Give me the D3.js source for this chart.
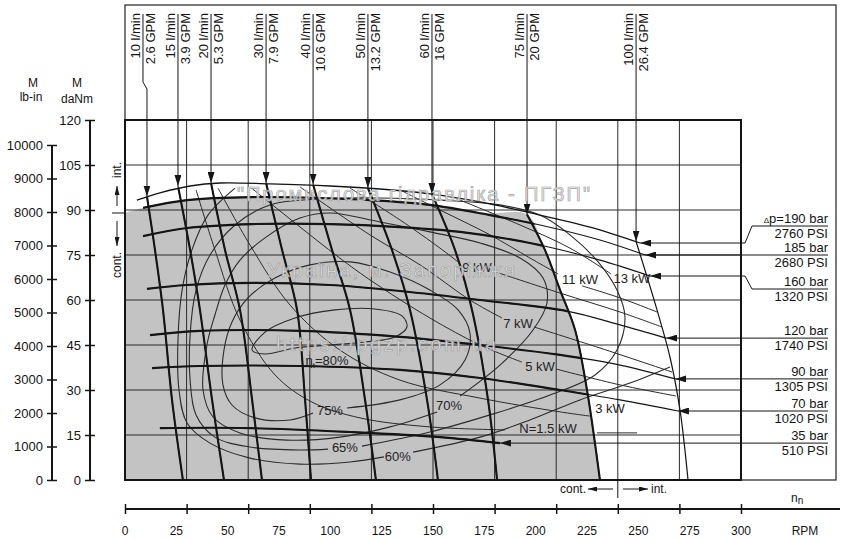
<!DOCTYPE html>
<html>
<head>
<meta charset="utf-8">
<script src="https://cdn.jsdelivr.net/npm/d3@7"></script>
<style>
  body { margin: 0; background: #fff; }
  svg { display: block; font-family: "Liberation Sans", Arial, sans-serif; }
</style>
</head>
<body>
<svg width="844" height="539"></svg>
<script>
const svg = d3.select("svg");

// ---- values: points are [rpm, daNm] ----
const torqueTicks = [0, 15, 30, 45, 60, 75, 90, 105, 120];
const lbinTicks = [0, 1000, 2000, 3000, 4000, 5000, 6000, 7000, 8000, 9000, 10000];
const rpmTicks = [0, 30, 60, 90, 120, 150, 180, 210, 240, 270, 300];
const rpmLabels = [0, 25, 50, 75, 100, 125, 150, 175, 200, 225, 250, 275, 300];

// pressure drop curves
const pressureBar = [190, 185, 160, 120, 90, 70, 35];
const pressurePsi = [2760, 2680, 1320, 1740, 1305, 1020, 510];
const p190 = [[5.8,93.3],[17,95.7],[31.7,98],[46.3,99],[70.6,98.7],[99.8,98],[124.2,97],[149.5,95.3],[172.9,92.7],[195.8,89.3],[226.5,84.3],[250.8,79]];
const p185 = [[8.8,90.7],[30.2,93.3],[62.3,94.3],[95,94],[119.3,93.3],[148.5,91.7],[177.8,88.3],[202.1,85],[231.3,80],[253.3,75]];
const p160 = [[8.8,81.3],[30.2,84],[62.3,85.3],[99.8,85.3],[133.9,84.3],[163.2,82.7],[197.2,79],[231.3,73.3],[255.7,68]];
const p120 = [[10.7,63.7],[30.2,65],[62.3,65.7],[99.8,65],[133.9,63],[172.9,60],[215.3,56.3],[241.1,51.7],[263.5,47.3]];
const p90 = [[12.2,48.3],[36.5,49.7],[85.2,49.7],[133.9,47.7],[172.9,45],[211.9,41.7],[241.1,38.3],[267.9,33.7]];
const p70 = [[13.2,37.3],[36.5,38],[85.2,38],[133.9,36.7],[172.9,34],[211.9,30],[241.1,26.7],[269.3,23]];
const p35 = [[17,17.3],[60.9,17.3],[109.6,16],[153.4,14.3],[182.6,12.3]];
const pressureCurves = [p190, p185, p160, p120, p90, p70, p35];

// flow curves
const flowLpm = [10, 15, 20, 30, 40, 50, 60, 75, 100];
const flowGpm = ["2.6", "3.9", "5.3", "7.9", "10.6", "13.2", "16", "20", "26.4"];
const f10 = [[10.7,94.5],[14.6,76.7],[18.5,56.7],[22.9,26.7],[28.2,0]];
const f15 = [[25.8,98],[31.7,76.7],[36.5,56.7],[42.4,26.7],[48.2,0]];
const f20 = [[41.9,99],[48.7,76.7],[56,56.7],[61.9,26.7],[66.7,0]];
const f30 = [[68.7,99],[76.5,76.7],[83.8,56.7],[87.7,26.7],[90.6,0]];
const f40 = [[91.6,98.5],[100.8,76.7],[109.6,56.7],[116.9,26.7],[122.2,0]];
const f50 = [[118.3,97.3],[130,76.7],[138.8,56.7],[147.1,26.7],[152.4,0]];
const f60 = [[149.5,95.3],[160.7,76.7],[169,56.7],[176.8,26.7],[181.2,0]];
const f75 = [[195.8,88.5],[204.5,76.7],[211.9,63.3],[219.2,50],[225,30],[231.3,0]];
const f100 = [[248.9,79.5],[259.1,56.7],[265.4,41],[270.3,23.3],[274.2,0]];
const flowCurves = [f10, f15, f20, f30, f40, f50, f60, f75, f100];

// top edge of the continuous (grey) field
const contTop = [[0,89],[12.2,91.3],[30.2,93.3],[62.3,94.3],[95,94],[119.3,93.3],[148.5,91.7],[177.8,89]];

// total efficiency contours (null = gap for the label)
const effLabels = ["80%", "75%", "70%", "65%", "60%"];
const effLabelAt = [[98.4,39.7],[99.8,23.3],[157.8,25],[107.1,10.7],[132.9,7.7]];
const e80 = [[61.9,43.3],[68.2,49.3],[82.8,54],[102.3,56.7],[121.8,57],[134.9,54.7],[137.3,51],[131.5,47.7],[116.9,46],[99.8,45],[82.8,44],[68.2,42]];
const e75 = [[108.1,24],[133.9,26.7],[153.4,31.7],[165.6,40],[168,49],[162.2,56.7],[148.5,63.3],[129.1,69.3],[109.6,72.7],[90.1,71.7],[73,67.3],[59.9,60.7],[52.1,52.7],[48.2,43.3],[47.7,31.7],[52.1,25],[63.3,20.7],[80.4,20],[91.6,22.3]];
const e70 = [[163.2,28],[182.6,38.3],[198.7,50],[205.5,59],[203.6,67.3],[192.4,74],[172.9,79],[148.5,82.7],[124.2,86],[99.8,89],[85.2,87.3],[68.2,80.7],[56,73.3],[48.7,65],[43.8,55],[39.9,45],[38,30],[42.9,21],[56,15.7],[78.9,13.3],[104.7,14.3],[129.1,17.7],[152,22.7]];
const e65 = [[115.4,11.3],[148.5,16],[177.8,21.7],[207,28.3],[228.9,35],[239.6,43.3],[243.5,54.3],[239.6,63.3],[230.4,72.7],[216.7,81.7],[202.1,88.3],[182.6,91.7],[153.4,93.3],[124.2,94],[95,93.7],[70.6,91.7],[53.6,85],[41.4,75],[34.6,63.3],[31.7,48.3],[31.7,33.3],[34.6,21.7],[43.8,14.3],[60.9,11],[85.2,10],[98.9,10.3]];
const e60 = [[53.6,97.3],[40.4,88.3],[32.6,76.7],[27.8,63.3],[25.8,46.7],[26.3,30],[30.2,19],[41.4,12.3],[60.9,7.3],[85.2,5.3],[109.6,6],[126.1,7.7],null,[140.3,9.3],[172.9,14.3],[197.2,20],[221.6,26.7],[245.9,32.3],[265.4,37.7]];
const effCurves = [e75, e70, e65, e60];

// output power lines
const kwLabels = ["N=1.5 kW", "3 kW", "5 kW", "7 kW", "9 kW", "11 kW", "13 kW"];
const kwLabelAt = [[206,17.3],[236.2,24],[202.1,37.7],[191.4,52.3],[171.4,70.7],[221.6,66.7],[246.9,67.3]];
const k1 = [[34.6,96.7],[43.8,76.7],[56,53.3],[73.1,35],[91,26],[114.4,20.7],[148.5,17.7],[185.1,16.7],null,[229.9,15.7],[249.4,15.7]];
const k3 = [[45.3,97.3],[60.9,78.3],[80.4,58.3],[104.7,43.3],[133.9,33.3],[172.9,27.3],[211.9,22.7],[226.5,21.3]];
const k5 = [[60.9,97.7],[101.3,75.7],[119.3,66.7],[148.5,54],[172.9,45],[193.3,39.3],null,[209.9,37],[241.1,31.7],[268.3,28]];
const k7 = [[85.2,97.7],[119.3,81.7],[143.7,71.7],[168,60],[183.6,54],null,[199.2,51],[231.3,44],[266.4,36]];
const k9 = [[109.6,97.3],[133.9,86.7],[153.4,77.3],[162.2,72.7],null,[180.7,69.3],[211.9,62.3],[241.1,56],[261.5,51]];
const k11 = [[133.9,96.7],[153.4,90],[177.8,81.7],[197.2,74],[210.9,68.7],null,[222.6,64.7],[241.1,60.7],[259.1,56]];
const k13 = [[163.2,93.3],[192.4,85],[216.7,77.3],[236.7,68.7]];
const kwCurves = [k1, k3, k5, k7, k9, k11, k13];

// ---- scales ----
const x = d3.scaleLinear().domain([0, 300]).range([125, 741]);
const y = d3.scaleLinear().domain([0, 120]).range([480, 120]);
const yLb = d3.scaleLinear().domain([0, 10000]).range([480, 145]);

const curve = d3.line()
    .defined(d => d !== null)
    .x(d => x(d[0]))
    .y(d => y(d[1]))
    .curve(d3.curveCatmullRom.alpha(0.5));

const closedCurve = d3.line()
    .x(d => x(d[0]))
    .y(d => y(d[1]))
    .curve(d3.curveCatmullRomClosed.alpha(0.5));

const ink = "#151515";

// arrow heads
const defs = svg.append("defs");
const marker = (id, w, h) => defs.append("marker")
    .attr("id", id)
    .attr("viewBox", `0 0 ${w} ${h}`)
    .attr("refX", w).attr("refY", h / 2)
    .attr("markerWidth", w).attr("markerHeight", h)
    .attr("markerUnits", "userSpaceOnUse")
    .attr("orient", "auto")
    .append("path")
    .attr("d", `M0,0L${w},${h / 2}L0,${h}Z`)
    .attr("fill", ink);
marker("arrow", 11, 7);
marker("arrowS", 9, 5);

// clip: area under the intermittent limit and left of 75 l/min -> thick strokes
defs.append("clipPath").attr("id", "cont")
    .append("path")
    .attr("d", curve([[0, 92.5]].concat(p190.filter(d => d[0] < 195), f75)) + `L${x(0)},${y(0)}Z`);

// outer frame
svg.append("rect")
    .attr("x", 125).attr("y", 5)
    .attr("width", 711).attr("height", 475)
    .attr("fill", "none").attr("stroke", "#333").attr("stroke-width", 1.3);

// grey continuous field
svg.append("path")
    .attr("d", curve(contTop.concat(f75)) + `L${x(0)},${y(0)}Z`)
    .attr("fill", "#c3c3c3");

// grid
const grid = svg.append("g").attr("stroke", "#2a2a2a").attr("stroke-width", 1);
grid.selectAll(".gx").data(rpmTicks).enter().append("line")
    .attr("x1", d => x(d)).attr("x2", d => x(d))
    .attr("y1", y(120)).attr("y2", y(0));
grid.selectAll(".gy").data(torqueTicks).enter().append("line")
    .attr("x1", x(0)).attr("x2", x(300))
    .attr("y1", d => y(d)).attr("y2", d => y(d));

// efficiency contours
const eff = svg.append("g").attr("fill", "none").attr("stroke", "#2b2b2b").attr("stroke-width", 1.1);
eff.append("path").attr("d", closedCurve(e80));
eff.selectAll(".ec").data(effCurves).enter().append("path").attr("d", d => curve(d));

// power lines
svg.append("g").attr("fill", "none").attr("stroke", "#2b2b2b").attr("stroke-width", 1)
    .selectAll("path").data(kwCurves).enter().append("path")
    .attr("d", d => curve(d));

// pressure curves: thin everywhere, thick inside the continuous field
const press = svg.append("g").attr("fill", "none").attr("stroke", ink);
press.selectAll(".pt").data(pressureCurves).enter().append("path")
    .attr("d", d => curve(d)).attr("stroke-width", (d, i) => i === 0 ? 1.3 : 1.1);
press.append("g").attr("clip-path", "url(#cont)")
    .selectAll("path").data(pressureCurves.slice(1)).enter().append("path")
    .attr("d", d => curve(d)).attr("stroke-width", 2.1);

// flow curves
const flow = svg.append("g").attr("fill", "none").attr("stroke", ink);
flow.selectAll(".ft").data(flowCurves).enter().append("path")
    .attr("d", d => curve(d)).attr("stroke-width", 1.2);
flow.append("g").attr("clip-path", "url(#cont)")
    .selectAll("path").data(flowCurves.slice(0, 7)).enter().append("path")
    .attr("d", d => curve(d)).attr("stroke-width", 2.1);
flow.append("path").attr("d", curve(f75)).attr("stroke-width", 2.1);

// plot box
svg.append("rect")
    .attr("x", x(0)).attr("y", y(120))
    .attr("width", x(300) - x(0)).attr("height", y(0) - y(120))
    .attr("fill", "none").attr("stroke", ink).attr("stroke-width", 2);

// flow labels with arrows from the top
const flowG = svg.append("g");
flowCurves.forEach((c, i) => {
    const tx = x(c[0][0]);
    const ty = y(c[0][1]);
    const lx = i === 0 ? tx - 4 : tx;
    flowG.append("path")
        .attr("d", i === 0 ? `M${lx},14V82L${tx},89V${ty}` : `M${lx},14V${ty}`)
        .attr("fill", "none").attr("stroke", ink).attr("stroke-width", 1)
        .attr("marker-end", "url(#arrow)");
    flowG.append("text")
        .attr("transform", `translate(${lx - 3},13) rotate(-90)`)
        .attr("text-anchor", "end").attr("font-size", 13).attr("fill", ink)
        .text(`${flowLpm[i]} l/min`);
    flowG.append("text")
        .attr("transform", `translate(${lx + 12},13) rotate(-90)`)
        .attr("text-anchor", "end").attr("font-size", 13).attr("fill", ink)
        .text(`${flowGpm[i]} GPM`);
});

// pressure labels with arrows from the right
const labelShift = [-17, 0, 13, 0, 0, 0, 0];
const pressG = svg.append("g");
pressureCurves.forEach((c, i) => {
    const end = c[c.length - 1];
    const tx = x(end[0]);
    const ty = y(end[1]);
    const uy = ty + labelShift[i];
    pressG.append("path")
        .attr("d", labelShift[i] ? `M828,${uy}H752L745,${ty}H${tx}` : `M828,${ty}H${tx}`)
        .attr("fill", "none").attr("stroke", ink).attr("stroke-width", 1)
        .attr("marker-end", "url(#arrow)");
    const t1 = pressG.append("text")
        .attr("x", 828).attr("y", uy - 3)
        .attr("text-anchor", "end").attr("font-size", 13).attr("fill", ink);
    if (i === 0) {
        t1.append("tspan").attr("font-size", 8).text("Δ");
        t1.append("tspan").text(`p=${pressureBar[i]} bar`);
    } else {
        t1.text(`${pressureBar[i]} bar`);
    }
    pressG.append("text")
        .attr("x", 828).attr("y", uy + 12)
        .attr("text-anchor", "end").attr("font-size", 13).attr("fill", ink)
        .text(`${pressurePsi[i]} PSI`);
});

// efficiency + power labels
const lab = svg.append("g").attr("font-size", 13).attr("fill", "#222").attr("text-anchor", "middle");
effLabels.forEach((t, i) => {
    const el = lab.append("text")
        .attr("x", x(effLabelAt[i][0])).attr("y", y(effLabelAt[i][1]))
        .attr("dy", "0.35em");
    if (i === 0) {
        el.append("tspan").text("η");
        el.append("tspan").attr("font-size", 8).attr("dy", 3).text("t");
        el.append("tspan").attr("dy", -3).text("=" + t);
    } else {
        el.text(t);
    }
});
kwLabels.forEach((t, i) => {
    lab.append("text")
        .attr("x", x(kwLabelAt[i][0])).attr("y", y(kwLabelAt[i][1]))
        .attr("dy", "0.35em").text(t);
});

// cont. / int. markers
const mk = svg.append("g").attr("stroke", ink).attr("stroke-width", 1).attr("fill", "none");
mk.append("line").attr("x1", 112).attr("x2", x(0)).attr("y1", y(contTop[0][1])).attr("y2", y(contTop[0][1]));
mk.append("line").attr("x1", 117).attr("x2", 117).attr("y1", 206).attr("y2", 186).attr("marker-end", "url(#arrowS)");
mk.append("line").attr("x1", 117).attr("x2", 117).attr("y1", 221).attr("y2", 246).attr("marker-end", "url(#arrowS)");
mk.append("line").attr("x1", x(240)).attr("x2", x(240)).attr("y1", y(0)).attr("y2", 498);
mk.append("line").attr("x1", 613).attr("x2", 588).attr("y1", 489).attr("y2", 489).attr("marker-end", "url(#arrowS)");
mk.append("line").attr("x1", 623).attr("x2", 648).attr("y1", 489).attr("y2", 489).attr("marker-end", "url(#arrowS)");

const small = svg.append("g").attr("font-size", 12).attr("fill", ink);
small.append("text").attr("transform", "translate(121,170) rotate(-90)").attr("text-anchor", "middle").text("int.");
small.append("text").attr("transform", "translate(121,265) rotate(-90)").attr("text-anchor", "middle").text("cont.");
small.append("text").attr("x", 586).attr("y", 493).attr("text-anchor", "end").text("cont.");
small.append("text").attr("x", 651).attr("y", 493).text("int.");

// left axes
const styleAxis = g => {
    g.attr("font-family", "Liberation Sans, Arial, sans-serif").attr("font-size", 13);
    g.select(".domain").remove();
    g.selectAll(".tick line").attr("x1", 5).attr("stroke", ink).attr("stroke-width", 1.5);
    g.selectAll(".tick text").attr("fill", ink);
};
const axM = svg.append("g").attr("transform", "translate(90,0)")
    .call(d3.axisLeft(y).tickValues(torqueTicks).tickSize(5).tickPadding(4))
    .call(styleAxis);
axM.append("line").attr("y1", y(0)).attr("y2", y(120)).attr("stroke", ink).attr("stroke-width", 2);

const axLb = svg.append("g").attr("transform", "translate(52,0)")
    .call(d3.axisLeft(yLb).tickValues(lbinTicks).tickFormat(d3.format("d")).tickSize(5).tickPadding(4))
    .call(styleAxis);
axLb.append("line").attr("y1", yLb(0)).attr("y2", yLb(10000)).attr("stroke", ink).attr("stroke-width", 2);

const titles = svg.append("g").attr("font-size", 12).attr("fill", ink).attr("text-anchor", "middle");
titles.append("text").attr("x", 33).attr("y", 87).text("M");
titles.append("text").attr("x", 31).attr("y", 101).text("lb-in");
titles.append("text").attr("x", 77).attr("y", 87).text("M");
titles.append("text").attr("x", 77).attr("y", 103).text("daNm");

// bottom speed axis
const axN = svg.append("g").attr("transform", "translate(0,509)")
    .call(d3.axisBottom(x).tickValues(rpmTicks).tickFormat("").tickSize(5));
axN.select(".domain").remove();
axN.selectAll(".tick line").attr("y1", -5).attr("stroke", ink).attr("stroke-width", 1.5);
axN.append("line").attr("x1", x(0)).attr("x2", 840).attr("stroke", ink).attr("stroke-width", 2);

svg.append("g").attr("font-size", 12).attr("fill", ink).attr("text-anchor", "middle")
    .selectAll("text").data(rpmLabels).enter().append("text")
    .attr("x", d => x(d)).attr("y", 535).text(d => d);
small.append("text").attr("x", 805).attr("y", 535).attr("text-anchor", "middle").text("RPM");
const nn = small.append("text").attr("x", 791).attr("y", 502);
nn.append("tspan").text("n");
nn.append("tspan").attr("font-size", 10).attr("dy", 2).text("n");

// watermark
const wm = svg.append("g")
    .attr("font-size", 20).attr("fill", "#e9e9e9").attr("stroke", "#9c9c9c")
    .attr("stroke-width", 0.7).attr("opacity", 0.9);
wm.append("text").attr("x", 237).attr("y", 201).attr("textLength", 353).text("\"Промислова гідравліка - ПГЗП\"");
wm.append("text").attr("x", 267).attr("y", 277).attr("textLength", 248).text("Україна, м. Запоріжжя");
wm.append("text").attr("x", 276).attr("y", 351).attr("textLength", 220).text("https://pgzp.com.ua");
</script>
</body>
</html>
